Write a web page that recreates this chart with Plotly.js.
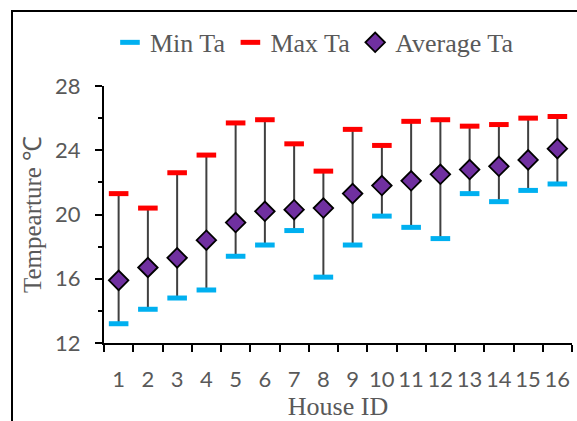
<!DOCTYPE html>
<html><head><meta charset="utf-8">
<script src="https://cdn.plot.ly/plotly-3.0.1.min.js"></script>
<style>
html,body{margin:0;padding:0;overflow:hidden;background:#fff;}
#frame{position:absolute;left:11px;top:10px;width:620px;height:460px;border:2px solid #000;box-sizing:border-box;pointer-events:none;z-index:5;}
#chart{position:absolute;left:0;top:0;width:577px;height:421px;}
</style></head>
<body>
<div id="chart"></div>
<div id="frame"></div>
<script>
const houses = ['1','2','3','4','5','6','7','8','9','10','11','12','13','14','15','16'];
const minTa = [13.2,14.1,14.8,15.3,17.4,18.1,19.0,16.1,18.1,19.9,19.2,18.5,21.3,20.8,21.5,21.9];
const maxTa = [21.3,20.4,22.6,23.7,25.7,25.9,24.4,22.7,25.3,24.3,25.8,25.9,25.5,25.6,26.0,26.1];
const avgTa = [15.9,16.7,17.3,18.4,19.5,20.2,20.3,20.4,21.3,21.8,22.1,22.5,22.8,23.0,23.4,24.1];

const span = maxTa.map((v,i)=>v-minTa[i]);
const zeros = minTa.map(()=>0);

const traces = [
  {x:houses, y:minTa, name:'Min Ta', type:'scatter', mode:'markers',
   marker:{symbol:'line-ew', size:14, color:'#00B0F0', line:{color:'#00B0F0', width:5}},
   error_y:{type:'data', symmetric:false, array:span, arrayminus:zeros, width:0, thickness:2, color:'#404040'}},
  {x:houses, y:maxTa, name:'Max Ta', type:'scatter', mode:'markers',
   marker:{symbol:'line-ew', size:14, color:'#FF0000', line:{color:'#FF0000', width:5}}},
  {x:houses, y:avgTa, name:'Average Ta', type:'scatter', mode:'markers',
   marker:{symbol:'diamond', size:15, color:'#7030A0', line:{color:'#000000', width:1.8}}}
];

const serif = 'Liberation Serif, Times New Roman, serif';
const sans = 'Lato, Carlito, sans-serif';

const layout = {
  width:577, height:421,
  margin:{l:104, r:5, t:86, b:78, autoexpand:false},
  paper_bgcolor:'#fff', plot_bgcolor:'#fff',
  showlegend:true,
  legend:{orientation:'h', x:0.545, xanchor:'center', xref:'container', y:0.955, yanchor:'top', yref:'container',
    font:{family:serif, size:26, color:'#595959'},
    itemwidth:30, tracegroupgap:0, bgcolor:'rgba(0,0,0,0)'},
  xaxis:{type:'category', range:[-0.5,15.5], tickson:'boundaries', ticks:'outside', ticklen:7, tickwidth:2, tickcolor:'#000',
    tickangle:0,
    showline:true, linecolor:'#000', linewidth:2, showgrid:false, zeroline:false,
    ticklabelstandoff:16,
    tickfont:{family:sans, size:22, color:'#595959'},
    title:{text:'House ID', standoff:0, font:{family:serif, size:26, color:'#595959'}}},
  yaxis:{range:[12,28], dtick:4, tick0:12, ticks:'outside', ticklen:7, tickwidth:2, tickcolor:'#000',
    minor:{dtick:2, ticks:'outside', ticklen:4, tickwidth:2, tickcolor:'#000'},
    showline:true, linecolor:'#000', linewidth:2, showgrid:false, zeroline:false,
    ticklabelstandoff:10,
    tickfont:{family:sans, size:22, color:'#595959'},
    title:{text:'Tempearture ℃', standoff:6, font:{family:serif, size:25, color:'#595959'}}}
};
Plotly.newPlot('chart', traces, layout, {displayModeBar:false, staticPlot:true});
</script>
</body></html>
